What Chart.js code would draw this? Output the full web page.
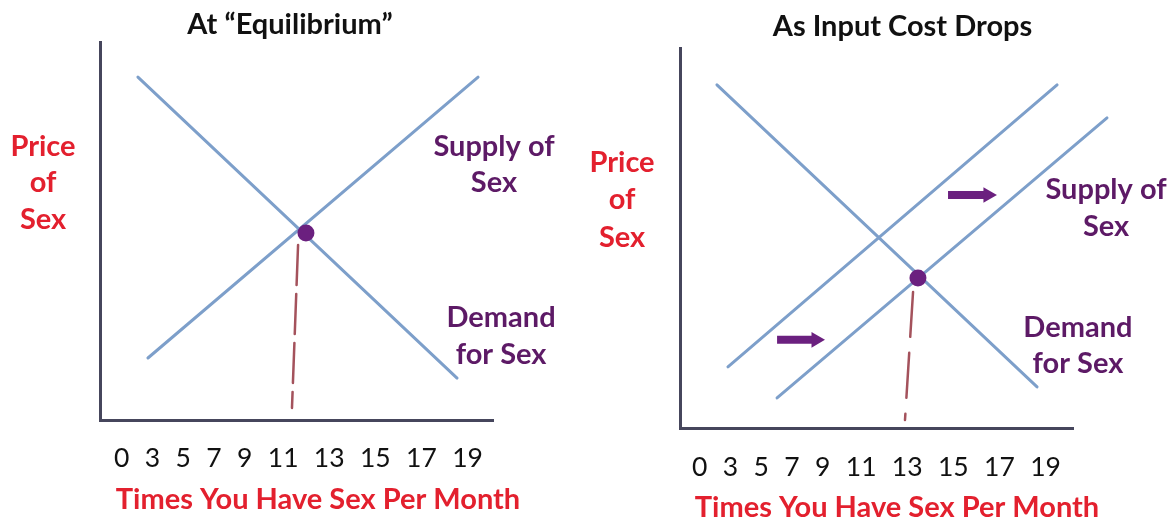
<!DOCTYPE html>
<html>
<head>
<meta charset="utf-8">
<script src="https://cdn.jsdelivr.net/npm/chart.js@4.4.1/dist/chart.umd.min.js"></script>
<style>
  html, body { margin: 0; padding: 0; background: #ffffff; }
  #wrap { position: relative; width: 1171px; height: 520px; overflow: hidden; }
  .panel { position: absolute; top: 0; height: 520px; }
  #p1 { left: 0; width: 585px; }
  #p2 { left: 585px; width: 586px; }
</style>
</head>
<body>
<div id="wrap">
  <div class="panel" id="p1"><canvas id="c1"></canvas></div>
  <div class="panel" id="p2"><canvas id="c2"></canvas></div>
</div>
<script>
// ---------------- data ----------------
const tickLabels   = ['0', '3', '5', '7', '9', '11', '13', '15', '17', '19'];
const panelTitles  = ['At \u201cEquilibrium\u201d', 'As Input Cost Drops'];
const xAxisTitle   = 'Times You Have Sex Per Month';
const yAxisTitle   = ['Price', 'of', 'Sex'];
const supplyLabel  = ['Supply of', 'Sex'];
const demandLabel  = ['Demand', 'for Sex'];

// Panel 1: at equilibrium (x = quantity, y = price, abstract units)
const eqDemand = [{ x: 1.93, y: 9.07 }, { x: 18.17, y: 1.11 }];
const eqSupply = [{ x: 2.44, y: 1.64 }, { x: 19.24, y: 9.07 }];
const eqPoint  = [{ x: 10.48, y: 4.95 }];
const eqDrop   = [{ x: 10.08, y: 4.63 }, { x: 9.77, y: 0.32 }];

// Panel 2: as input cost drops
const shDemand    = [{ x: 1.88, y: 9.03 }, { x: 18.17, y: 1.08 }];
const shSupplyOld = [{ x: 2.44, y: 1.61 }, { x: 19.19, y: 9.03 }];
const shSupplyNew = [{ x: 4.94, y: 0.79 }, { x: 21.73, y: 8.16 }];
const shPoint     = [{ x: 12.11, y: 3.95 }];
const shDrop      = [{ x: 11.86, y: 3.58 }, { x: 11.45, y: 0.21 }];
const shArrowLow  = [{ x: 4.94, y: 2.32 }, { x: 6.92, y: 2.32 }];
const shArrowHigh = [{ x: 13.64, y: 6.13 }, { x: 15.67, y: 6.13 }];

// ---------------- styles ----------------
const BLUE = '#7d9fca';
const AXIS = '#46465c';
const RED = '#e3202e';
const PURPLE_TEXT = '#5d1a66';
const PURPLE = '#6b207f';
const DROP = '#a4525c';
const BOLD = 'bold 29px Lato, "Open Sans", sans-serif';
const REG = '26.5px Lato, "Open Sans", sans-serif';

// ---------------- text plugin ----------------
const panelText = {
  id: 'panelText',
  afterDraw(chart, _args, o) {
    const { ctx, chartArea: ca, scales: { x, y } } = chart;
    const cx0 = (ca.left + ca.right) / 2;
    ctx.save();
    ctx.textAlign = 'center';
    ctx.textBaseline = 'middle';
    // title
    ctx.font = BOLD; ctx.fillStyle = '#111111';
    ctx.fillText(o.title, cx0 + o.titleDx, ca.top + o.titleDy);
    // tick labels, laid out like a typed row with figure-width gaps
    ctx.font = REG; ctx.fillStyle = '#111111';
    const gap = ctx.measureText('0').width;
    const widths = o.ticks.map(t => ctx.measureText(t).width);
    const total = widths.reduce((a, b) => a + b, 0) + gap * (o.ticks.length - 1);
    let cx = cx0 + o.tickDx - total / 2;
    o.ticks.forEach((t, i) => {
      ctx.fillText(t, cx + widths[i] / 2, ca.bottom + o.tickDy);
      cx += widths[i] + gap;
    });
    // x axis title
    ctx.font = BOLD; ctx.fillStyle = RED;
    ctx.fillText(o.xTitle, cx0 + o.xTitleDx, ca.bottom + o.xTitleDy);
    // data-anchored labels
    for (const l of o.labels) {
      ctx.font = BOLD; ctx.fillStyle = l.color;
      const px = x.getPixelForValue(l.x), py = y.getPixelForValue(l.y);
      const n = l.lines.length;
      l.lines.forEach((s, i) => ctx.fillText(s, px, py + (i - (n - 1) / 2) * l.lh));
    }
    ctx.restore();
  }
};

function lineDs(data, color, width, dash) {
  return {
    data, borderColor: color, borderWidth: width, borderDash: dash || [],
    pointRadius: 0, fill: false, tension: 0, clip: false, borderCapStyle: 'round'
  };
}
function dotDs(data) {
  return {
    data, showLine: false, pointRadius: 8.5, pointBackgroundColor: PURPLE,
    pointBorderWidth: 0, clip: false
  };
}
function arrowDs(data) {
  return {
    data, borderColor: PURPLE, borderWidth: 8, fill: false, clip: false,
    pointRadius: [0, 9], pointStyle: 'triangle', pointRotation: 90,
    pointBackgroundColor: PURPLE, pointBorderWidth: 0
  };
}

function makePanel(id, datasets, padding, text) {
  const scaleBase = {
    type: 'linear',
    ticks: { display: false },
    grid: { display: false, drawTicks: false },
    border: { display: true, color: AXIS, width: 3 }
  };
  return new Chart(document.getElementById(id), {
    type: 'line',
    data: { datasets },
    options: {
      responsive: true, maintainAspectRatio: false, animation: false, events: [],
      layout: { padding },
      scales: {
        x: Object.assign({}, scaleBase, { min: 0, max: 20 }),
        y: Object.assign({}, scaleBase, { min: 0, max: 10 })
      },
      plugins: {
        legend: { display: false }, tooltip: { enabled: false }, title: { display: false },
        panelText: text
      }
    },
    plugins: [panelText]
  });
}

makePanel('c1', [
  dotDs(eqPoint),
  lineDs(eqDemand, BLUE, 3),
  lineDs(eqSupply, BLUE, 3),
  lineDs(eqDrop, DROP, 2.5, [40, 9])
], { left: 100, right: 92, top: 42, bottom: 100 }, {
  title: panelTitles[0], titleDx: -6.5, titleDy: -17,
  ticks: tickLabels, tickDx: 2, tickDy: 38,
  xTitle: xAxisTitle, xTitleDx: 21.5, xTitleDy: 80,
  labels: [
    { lines: yAxisTitle, x: -2.9, y: 6.27, lh: 36.5, color: RED },
    { lines: supplyLabel, x: 20.05, y: 6.75, lh: 36.5, color: PURPLE_TEXT },
    { lines: demandLabel, x: 20.41, y: 2.22, lh: 36.5, color: PURPLE_TEXT }
  ]
});

makePanel('c2', [
  dotDs(shPoint),
  arrowDs(shArrowLow),
  arrowDs(shArrowHigh),
  lineDs(shDemand, BLUE, 3),
  lineDs(shSupplyOld, BLUE, 3),
  lineDs(shSupplyNew, BLUE, 3),
  lineDs(shDrop, DROP, 2.5, [45, 16])
], { left: 95, right: 98, top: 48, bottom: 92 }, {
  title: panelTitles[1], titleDx: 26, titleDy: -21,
  ticks: tickLabels, tickDx: 0, tickDy: 39,
  xTitle: xAxisTitle, xTitleDx: 20.5, xTitleDy: 80,
  labels: [
    { lines: yAxisTitle, x: -2.95, y: 6.0, lh: 37.5, color: RED },
    { lines: supplyLabel, x: 21.68, y: 5.78, lh: 37, color: PURPLE_TEXT },
    { lines: demandLabel, x: 20.25, y: 2.18, lh: 36, color: PURPLE_TEXT }
  ]
});
</script>
</body>
</html>
